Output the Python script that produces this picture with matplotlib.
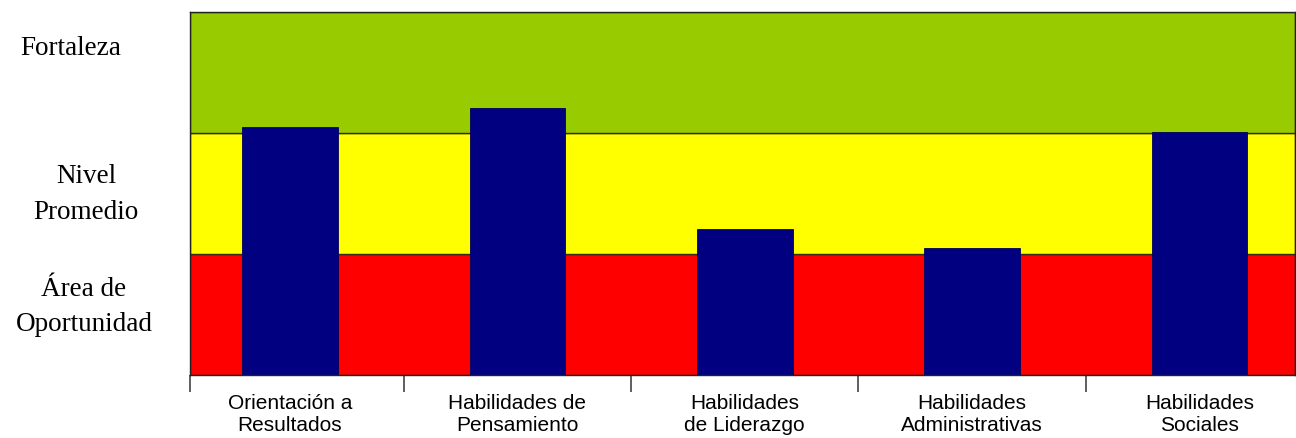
import numpy as np
import matplotlib
matplotlib.use('Agg')
import matplotlib.pyplot as plt

# competencias evaluadas
categories = ['Orientación a\nResultados', 'Habilidades de\nPensamiento',
              'Habilidades\nde Liderazgo', 'Habilidades\nAdministrativas',
              'Habilidades\nSociales']
scores = [2.05, 2.21, 1.21, 1.05, 2.01]

# niveles de referencia (bandas de fondo)
band_labels = ['Área de\nOportunidad', 'Nivel\nPromedio', 'Fortaleza']
band_limits = [0, 1, 2, 3]
band_colors = ['#ff0000', '#ffff00', '#99cc00']

fig = plt.figure(figsize=(12.96, 4.38), dpi=100)
ax = fig.add_axes([190/1296, 63/438, 1105/1296, 363/438])

for lo, hi, c in zip(band_limits[:-1], band_limits[1:], band_colors):
    ax.axhspan(lo, hi, facecolor=c, edgecolor='#3a2a10', lw=1.0, zorder=0)

x = np.arange(len(categories))
ax.bar(x, scores, width=0.42, color='#000080', edgecolor='#000060', lw=0.6, zorder=2)

ax.set_xlim(-0.44, 4.42)
ax.set_ylim(0, 3)

# ticks en los limites de cada categoria, etiquetas al centro
ax.set_xticks([-0.44, 0.5, 1.5, 2.5, 3.5])
ax.set_xticklabels([])
ax.tick_params(axis='x', which='major', length=12, width=1.2, color='#444444', direction='out')
ax.set_xticks(x, minor=True)
ax.set_xticklabels(categories, minor=True, fontsize=15, family='Liberation Sans')
ax.tick_params(axis='x', which='minor', length=0, pad=14)
ax.set_yticks([])

for s in ax.spines.values():
    s.set_color('#222222')
    s.set_linewidth(1.0)

# etiquetas de las bandas a la izquierda
band_y = [0.56, 1.49, 2.70]
band_x = [84, 86, 71]
for lab, yy, xx in zip(band_labels, band_y, band_x):
    fig.text(xx/1296, ax.transData.transform((0, yy))[1]/fig.bbox.height, lab,
             ha='center', va='center', multialignment='center',
             fontsize=19.5, family='Liberation Serif', linespacing=1.55)

plt.savefig('out.png', dpi=100)
